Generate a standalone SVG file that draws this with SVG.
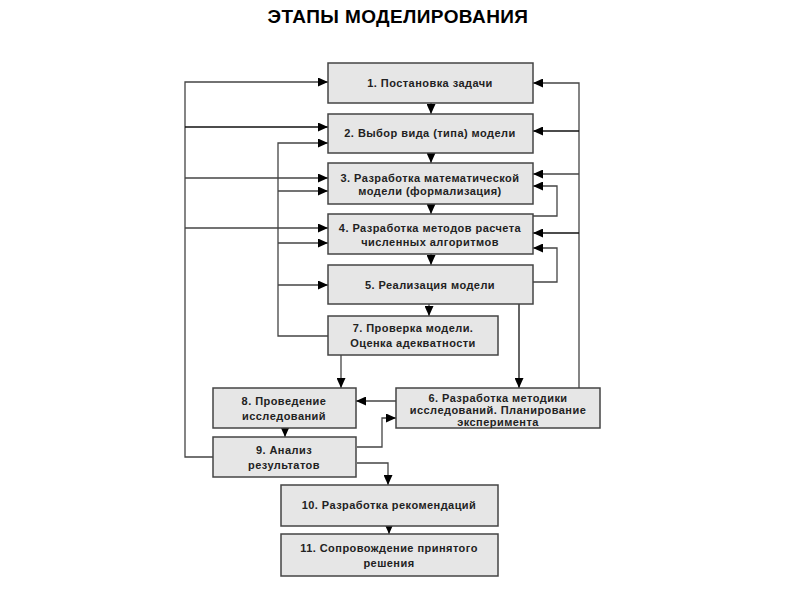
<svg xmlns="http://www.w3.org/2000/svg" width="800" height="600" viewBox="0 0 800 600">
<defs>
<marker id="ah" markerUnits="userSpaceOnUse" markerWidth="11" markerHeight="9" refX="10" refY="4.5" orient="auto">
<path d="M0,0 L10,4.5 L0,9 z" fill="#000"/>
</marker>
<style>
.box rect{fill:#e6e6e6;stroke:#444;stroke-width:1.5}
.box text{font-family:"Liberation Sans",Arial,sans-serif;font-weight:bold;font-size:11px;letter-spacing:0.45px;fill:#222;text-anchor:middle}
.title{font-family:"Liberation Sans",Arial,sans-serif;font-weight:bold;font-size:19px;letter-spacing:0.4px;fill:#000;text-anchor:middle}
#connectors path{fill:none;stroke:#444;stroke-width:1.3;marker-end:url(#ah)}
</style>
</defs>
<rect width="800" height="600" fill="#fff"/>
<text class="title" x="398" y="23">ЭТАПЫ МОДЕЛИРОВАНИЯ</text>

<g id="connectors">
<path d="M213,457 H185 V82 H328"/>
<path d="M185,127 H328" style="stroke:#111"/>
<path d="M185,178 H328"/>
<path d="M185,228 H328"/>
<path d="M328,336 H278 V143 H328"/>
<path d="M278,191 H328"/>
<path d="M278,243 H328"/>
<path d="M278,285 H328"/>
<path d="M579,388 V83 H533"/>
<path d="M579,131 H533" style="stroke:#111"/>
<path d="M579,174 H533"/>
<path d="M579,233 H533" style="stroke:#111;stroke-width:1.6"/>
<path d="M533,216 H557 V186 H533"/>
<path d="M533,282 H557 V248 H533"/>
<path d="M431,103 V114"/>
<path d="M431,153 V163"/>
<path d="M431,204 V214"/>
<path d="M431,254 V265"/>
<path d="M429,304 V316"/>
<path d="M519,304 V388" style="stroke:#111"/>
<path d="M341,355 V388"/>
<path d="M396,401 H356"/>
<path d="M357,447 H382 V418 H396"/>
<path d="M285,428 V437"/>
<path d="M357,463 H388 V485"/>
<path d="M389,526 V534"/>
</g>

<g id="n1" class="box"><rect x="328" y="63" width="205" height="40"/><text x="430" y="87">1. Постановка задачи</text></g>
<g id="n2" class="box"><rect x="328" y="114" width="205" height="39"/><text x="430" y="137">2. Выбор вида (типа) модели</text></g>
<g id="n3" class="box"><rect x="328" y="163" width="205" height="41"/><text x="430" y="182">3. Разработка математической</text><text x="430" y="195">модели (формализация)</text></g>
<g id="n4" class="box"><rect x="328" y="214" width="205" height="40"/><text x="430" y="232">4. Разработка методов расчета</text><text x="430" y="246">численных алгоритмов</text></g>
<g id="n5" class="box"><rect x="328" y="265" width="205" height="39"/><text x="430" y="289">5. Реализация модели</text></g>
<g id="n7" class="box"><rect x="328" y="316" width="170" height="39"/><text x="413" y="332">7. Проверка модели.</text><text x="413" y="347">Оценка адекватности</text></g>
<g id="n8" class="box"><rect x="213" y="388" width="143" height="40"/><text x="284" y="405">8. Проведение</text><text x="284" y="420">исследований</text></g>
<g id="n9" class="box"><rect x="213" y="437" width="143" height="40"/><text x="284" y="454">9. Анализ</text><text x="284" y="469">результатов</text></g>
<g id="n6" class="box"><rect x="396" y="388" width="204" height="40"/><text x="498" y="402">6. Разработка методики</text><text x="498" y="414">исследований. Планирование</text><text x="498" y="426">эксперимента</text></g>
<g id="n10" class="box"><rect x="281" y="485" width="217" height="41"/><text x="389" y="509">10. Разработка рекомендаций</text></g>
<g id="n11" class="box"><rect x="281" y="534" width="217" height="42"/><text x="389" y="552">11. Сопровождение принятого</text><text x="389" y="567">решения</text></g>
</svg>
